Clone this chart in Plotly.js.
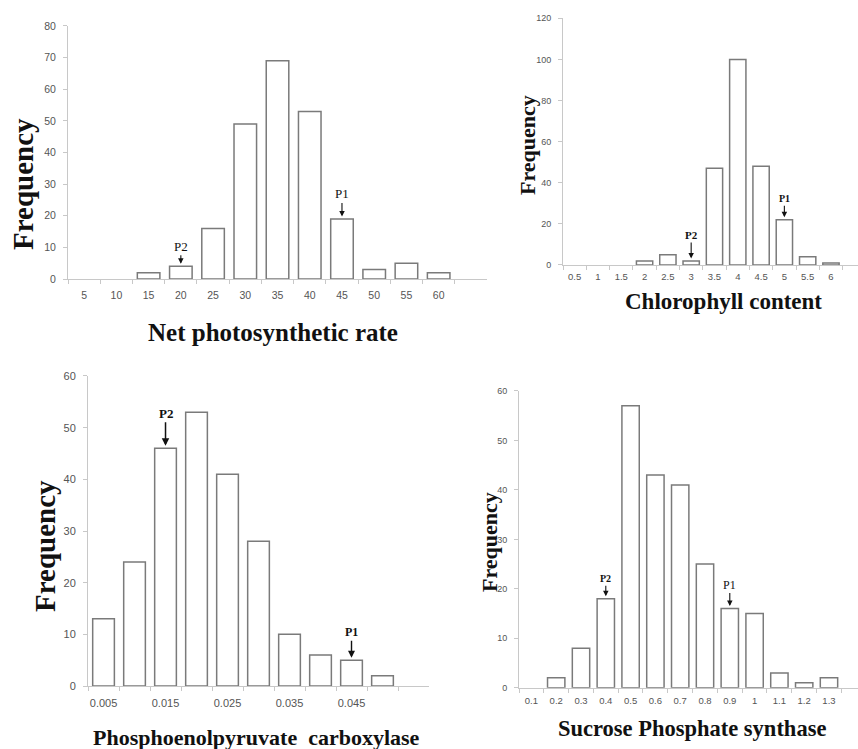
<!DOCTYPE html>
<html>
<head>
<meta charset="utf-8">
<script src="https://cdn.plot.ly/plotly-3.0.1.min.js"></script>
<style>html,body{margin:0;padding:0;background:#fff;}#chart{width:858px;height:749px;}</style>
</head>
<body>
<div id="chart"></div>
<script>
// ---- Data ----
const netRateBins = ['5','10','15','20','25','30','35','40','45','50','55','60'];
const netRateFreq = [0, 0, 2, 4, 16, 49, 69, 53, 19, 3, 5, 2];

const chlBins = ['0.5','1','1.5','2','2.5','3','3.5','4','4.5','5','5.5','6'];
const chlFreq = [0, 0, 0, 2, 5, 2, 47, 100, 48, 22, 4, 1];

const pepcBins = ['0.005','0.01','0.015','0.02','0.025','0.03','0.035','0.04','0.045','0.05'];
const pepcLabels = ['0.005','','0.015','','0.025','','0.035','','0.045',''];
const pepcFreq = [13, 24, 46, 53, 41, 28, 10, 6, 5, 2];

const spsBins = ['0.1','0.2','0.3','0.4','0.5','0.6','0.7','0.8','0.9','1','1.1','1.2','1.3'];
const spsFreq = [0, 2, 8, 18, 57, 43, 41, 25, 16, 15, 3, 1, 2];

// parent markers (category of each parent)
const markerCats = {
  net: {P1: '45', P2: '20'},
  chl: {P1: '5', P2: '3'},
  pepc: {P1: '0.045', P2: '0.015'},
  sps: {P1: '0.9', P2: '0.4'}
};

// ---- Styles ----
function bar(x, y, xa, ya) {
  return {type: 'bar', x: x, y: y, xaxis: xa, yaxis: ya, hoverinfo: 'x+y',
    marker: {color: '#ffffff', line: {color: '#7a7a7a', width: y.map(v => v > 0 ? 1.5 : 0)}}};
}
const traces = [
  bar(netRateBins, netRateFreq, 'x', 'y'),
  bar(chlBins, chlFreq, 'x2', 'y2'),
  bar(pepcBins, pepcFreq, 'x3', 'y3'),
  bar(spsBins, spsFreq, 'x4', 'y4')
];

function xAx(domain, anchor, range, fs, standoff, extra) {
  return Object.assign({
    type: 'category', domain: domain, anchor: anchor, range: range,
    showline: true, linecolor: '#c8c8c8', linewidth: 1,
    ticks: 'outside', tickson: 'boundaries', ticklen: 4, tickcolor: '#c8c8c8',
    showgrid: false, zeroline: false, fixedrange: true, tickangle: 0,
    ticklabelstandoff: standoff,
    tickfont: {family: 'Liberation Sans, Arial', size: fs, color: '#555'}
  }, extra || {});
}
function yAx(domain, anchor, range, dtick, fs) {
  return {
    domain: domain, anchor: anchor, range: range, dtick: dtick, tick0: 0,
    showline: true, linecolor: '#c8c8c8', linewidth: 1,
    ticks: 'outside', ticklen: 4, tickcolor: '#c8c8c8',
    showgrid: false, zeroline: false, fixedrange: true,
    ticklabelstandoff: 5,
    tickfont: {family: 'Liberation Sans, Arial', size: fs, color: '#555'}
  };
}

const serif = 'Liberation Serif, Times New Roman, serif';
function title(text, x, y, size, angle) {
  return {text: '<b>' + text + '</b>', xref: 'paper', yref: 'paper', x: x, y: y,
    xanchor: 'center', yanchor: 'middle', showarrow: false, textangle: angle || 0,
    font: {family: serif, size: size, color: '#111'}};
}
function pmark(label, xa, ya, bins, freq, cat, ay, fs, bold, aw) {
  const i = bins.indexOf(cat);
  return {text: bold ? '<b>' + label + '</b>' : label, xref: xa, yref: ya, x: i, y: freq[i],
    showarrow: true, ax: 0, ay: ay, arrowhead: 2, arrowsize: 1, arrowwidth: aw || 1.1,
    arrowcolor: '#111', standoff: 2.5,
    font: {family: serif, size: fs, color: '#111'}};
}

const annotations = [
  title('Net photosynthetic rate', 0.3182, 0.5567, 25),
  title('Frequency', 0.0268, 0.7543, 29, -90),
  title('Chlorophyll content', 0.8438, 0.5968, 23),
  title('Frequency', 0.6142, 0.8064, 22, -90),
  title('Phosphoenolpyruvate&nbsp; carboxylase', 0.2984, 0.0160, 22),
  title('Frequency', 0.0524, 0.2710, 29, -90),
  title('Sucrose Phosphate synthase', 0.8071, 0.0280, 22.5),
  title('Frequency', 0.5711, 0.2764, 22, -90),
  pmark('P2', 'x', 'y', netRateBins, netRateFreq, markerCats.net.P2, -20, 13, false),
  pmark('P1', 'x', 'y', netRateBins, netRateFreq, markerCats.net.P1, -25, 13, false),
  pmark('P2', 'x2', 'y2', chlBins, chlFreq, markerCats.chl.P2, -26, 11, true),
  pmark('P1', 'x2', 'y2', chlBins, chlFreq, markerCats.chl.P1, -21, 10, true),
  pmark('P2', 'x3', 'y3', pepcBins, pepcFreq, markerCats.pepc.P2, -35, 13, true, 1.5),
  pmark('P1', 'x3', 'y3', pepcBins, pepcFreq, markerCats.pepc.P1, -28, 12, true, 1.4),
  pmark('P2', 'x4', 'y4', spsBins, spsFreq, markerCats.sps.P2, -20, 10, true),
  pmark('P1', 'x4', 'y4', spsBins, spsFreq, markerCats.sps.P1, -24, 12, false)
];

const layout = {
  width: 858, height: 749,
  margin: {l: 0, r: 0, t: 0, b: 0},
  paper_bgcolor: '#ffffff', plot_bgcolor: '#ffffff',
  showlegend: false, bargap: 0.3,
  xaxis: xAx([0.0793, 0.5676], 'y', [-0.5, 12.5], 10.5, 6),
  yaxis: yAx([0.6275, 0.9653], 'x', [0, 80], 10, 10.5),
  xaxis2: xAx([0.6562, 1.0], 'y2', [-0.5, 12.16], 9.5, 3),
  yaxis2: yAx([0.6462, 0.9756], 'x2', [0, 120], 20, 9),
  xaxis3: xAx([0.1026, 0.5000], 'y3', [-0.5, 10.5], 11, 7,
    {tickmode: 'array', tickvals: pepcBins, ticktext: pepcLabels}),
  yaxis3: yAx([0.0841, 0.4980], 'x3', [0, 60], 10, 11),
  xaxis4: xAx([0.6049, 1.0], 'y4', [-0.5, 13.17], 9.5, 4),
  yaxis4: yAx([0.0818, 0.4780], 'x4', [0, 60], 10, 9),
  annotations: annotations
};

Plotly.newPlot('chart', traces, layout, {displayModeBar: false, staticPlot: true});
</script>
</body>
</html>
